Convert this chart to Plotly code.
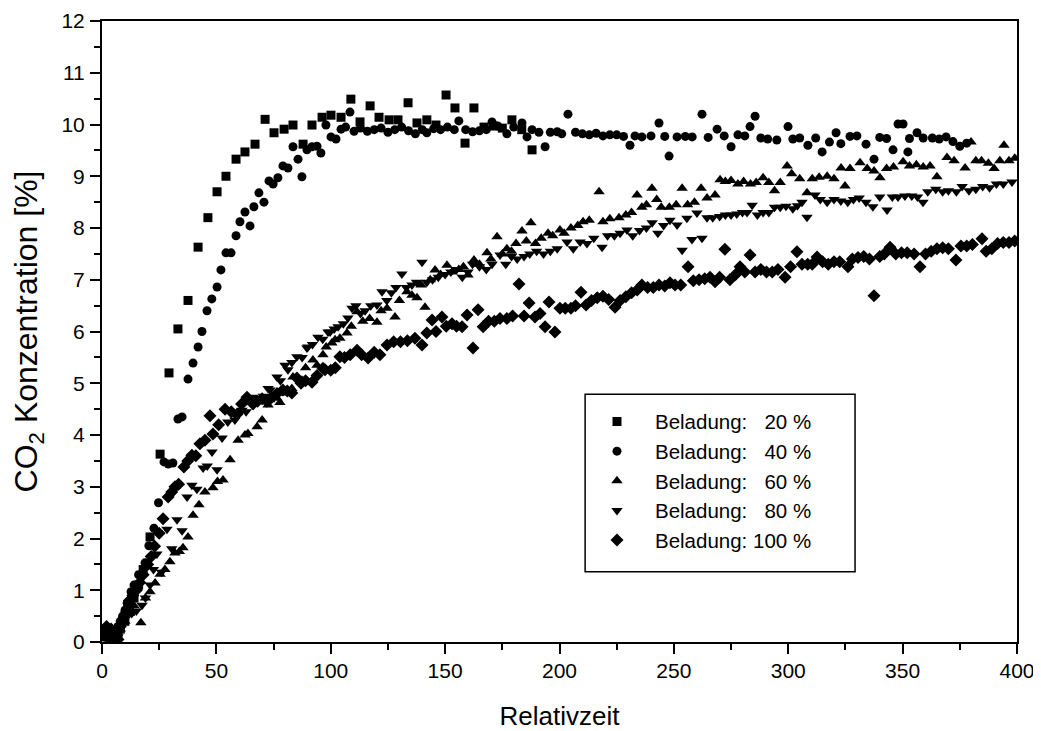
import plotly.graph_objects as go

FONT_FAMILY = "Liberation Sans, Arial, sans-serif"

# Beladung 20 %
x_20 = [1, 2, 3, 4, 5, 6, 7, 8, 10, 12, 14, 16, 18, 21, 25.4, 29.3, 33.2, 37.6, 42, 46.3, 50.3, 54.2, 58.6,
        62.5, 66.9, 71.3, 75.2, 79.6, 83.5, 87.9, 91.8, 96.2, 100.1, 104.5, 108.8, 112.8, 117.2, 121.1, 125.5,
        129.4, 133.8, 137.7, 142, 146, 150.4, 154.3, 158.7, 162.6, 167, 171, 175, 179.2, 183.5, 188]
y_20 = [0.1, 0.2, 0.15, 0.05, 0.1, 0.2, 0.15, 0.25, 0.4, 0.65, 0.85, 1.1, 1.4, 2.03, 3.63, 5.2, 6.05, 6.6, 7.63,
        8.2, 8.7, 9.0, 9.33, 9.47, 9.62, 10.1, 9.84, 9.91, 9.99, 9.62, 9.99, 10.14, 10.18, 10.14, 10.49, 10.05,
        10.36, 10.14, 10.09, 10.09, 10.42, 10.03, 10.09, 9.99, 10.57, 10.32, 9.64, 10.32, 9.95, 9.97, 9.93,
        10.09, 9.9, 9.51]

# Beladung 40 %
x_40 = [1, 2, 3, 4, 5, 6, 7, 8, 9, 10, 11, 12.7, 14, 16, 18.8, 20.5, 22.7, 24.7, 27.1, 29, 31, 33.2, 35, 37.6,
        39.8, 42, 43.7, 45.9, 48, 50.3, 52, 54.2, 56.4, 58.6, 60.3, 62.5, 64.7, 66.4, 68.6, 70.8, 73, 74.8,
        76.9, 79.1, 81.3, 83.5, 85.7, 87.4, 89.6, 91.8, 94, 95.7, 97.9, 100.1, 102.3, 104.5, 106.5, 108.4,
        110.2, 113, 116, 119, 122, 125, 128, 131, 134, 137, 140, 142, 145, 148, 151, 154, 156, 159, 162, 165,
        168, 170.5, 173, 177, 180, 183.6, 185.8, 188, 191, 193.7, 196, 199, 201, 203.7, 207, 210, 213, 216,
        219, 222, 225, 228, 230.8, 233, 236, 240, 243.5, 246, 247.9, 251.4, 255, 258, 262.3, 265, 268.9, 272,
        275, 278, 281, 283.3, 285.5, 288, 291, 295, 299.9, 302, 305, 308.6, 312, 314.8, 318, 320.9, 323, 327,
        330, 334, 337.5, 340, 343, 345.8, 348, 350.2, 352.3, 353, 356.3, 359, 363, 366, 369, 372, 375, 378]
y_40 = [0.1, 0.2, 0.05, 0.15, 0.1, 0.2, 0.3, 0.4, 0.5, 0.6, 0.75, 0.97, 1.1, 1.3, 1.53, 1.86, 2.2, 2.69, 3.48,
        3.44, 3.46, 4.31, 4.35, 5.08, 5.39, 5.7, 6.0, 6.4, 6.63, 6.86, 7.19, 7.52, 7.52, 7.85, 8.12, 8.31, 8.04,
        8.41, 8.68, 8.5, 8.91, 8.85, 8.97, 9.2, 9.16, 9.57, 9.33, 8.99, 9.51, 9.57, 9.58, 9.45, 9.99, 9.76,
        9.72, 9.91, 9.95, 10.24, 9.87, 9.93, 9.87, 9.9, 9.93, 9.85, 9.9, 9.95, 9.88, 9.82, 9.9, 9.84, 9.92, 9.9,
        9.95, 9.9, 10.07, 9.9, 9.86, 9.88, 9.9, 10.05, 9.97, 9.82, 9.95, 10.03, 9.76, 9.9, 9.85, 9.57, 9.85,
        9.86, 9.82, 10.2, 9.85, 9.82, 9.8, 9.83, 9.78, 9.8, 9.8, 9.77, 9.6, 9.78, 9.76, 9.78, 10.03, 9.77,
        9.39, 9.76, 9.77, 9.76, 10.2, 9.75, 9.91, 9.78, 9.57, 9.8, 9.78, 9.96, 10.16, 9.74, 9.72, 9.7, 9.96,
        9.72, 9.74, 9.6, 9.74, 9.47, 9.66, 9.84, 9.63, 9.77, 9.78, 9.62, 9.33, 9.75, 9.73, 9.51, 10.01, 10.01,
        9.47, 9.73, 9.84, 9.74, 9.74, 9.72, 9.76, 9.67, 9.58, 9.64]

# Beladung 60 %
x_60 = [2, 4, 6, 8, 10, 12, 14, 17, 19, 21, 23.2, 25.4, 27.5, 29.7, 31.9, 33.8, 35.4, 37.6, 39.8, 42.4, 45,
        48.5, 50.5, 52.9, 56, 59.5, 62.5, 63.8, 67.8, 70, 72.6, 73.4, 76.5, 77.8, 78.7, 83, 83.5, 87.4, 89,
        92.2, 94, 96.6, 98, 100.5, 101.9, 104, 107.1, 109, 111.5, 114, 117, 120.2, 122, 124.6, 128.1, 130,
        133.3, 135.5, 137.7, 139.5, 141.2, 143.5, 145.6, 148, 150.8, 153, 156, 158, 160, 162.6, 165, 168.3,
        170, 172.7, 175, 177, 179, 181, 183.6, 185.5, 187.5, 189.5, 192, 195, 197, 200.2, 202, 205, 208,
        210.3, 213, 217.3, 219, 222, 226, 229, 231.5, 233.9, 236, 238, 240.4, 242.5, 244.5, 248, 251, 253.6,
        256, 259, 261.9, 264.5, 268, 270.2, 272.5, 275, 278, 280.5, 283.5, 286, 289, 291.5, 294, 296.5,
        299.5, 301.5, 305, 308.2, 310.5, 313.5, 317, 320, 323.1, 324.8, 327, 331.4, 334.5, 337.5, 340.1,
        343, 346, 350.2, 353, 356, 359, 362, 365, 369.4, 372.5, 377.3, 379.9, 382, 384.5, 387.5, 390, 392.5,
        394.3, 396.5, 399]
y_60 = [0.1, 0.2, 0.1, 0.25, 0.4, 0.55, 0.7, 0.37, 0.85, 0.97, 1.14, 1.31, 1.4, 1.55, 1.72, 1.75, 1.82, 2.03,
        2.45, 2.65, 2.9, 2.98, 3.1, 3.13, 3.52, 3.9, 4.0, 4.03, 4.16, 4.29, 4.58, 4.68, 4.71, 4.63, 4.81, 4.9,
        5.12, 5.06, 5.3, 5.45, 5.35, 5.55, 5.7, 5.78, 5.84, 5.87, 5.97, 6.1, 6.38, 6.2, 6.25, 6.18, 6.4, 6.45,
        6.28, 6.6, 6.77, 6.7, 6.65, 6.9, 6.47, 7.0, 7.19, 7.1, 7.28, 7.15, 7.2, 7.25, 7.09, 7.38, 7.3, 7.52,
        7.4, 7.83, 7.5, 7.6, 7.55, 7.7, 7.94, 7.75, 8.1, 7.7, 7.8, 7.9, 7.85, 7.96, 7.9, 8.0, 8.05, 8.12,
        8.15, 8.7, 8.12, 8.18, 8.2, 8.25, 8.3, 8.64, 8.4, 8.45, 8.77, 8.55, 8.4, 8.4, 8.45, 8.77, 8.45, 8.5,
        8.77, 8.58, 8.64, 8.93, 8.9, 8.92, 8.85, 8.9, 8.85, 8.88, 8.97, 8.88, 8.72, 8.88, 9.2, 9.05, 8.95,
        8.68, 8.95, 8.98, 9.0, 8.95, 9.16, 8.81, 9.15, 9.26, 9.15, 9.1, 8.97, 9.15, 9.18, 9.28, 9.2, 9.22,
        9.18, 9.2, 8.99, 9.36, 9.3, 9.16, 9.66, 9.3, 9.3, 9.25, 9.15, 9.3, 9.6, 9.3, 9.35]

# Beladung 80 %
x_80 = [1, 3, 5, 7, 9, 11, 13, 15, 17.5, 19, 21, 22.5, 24, 26, 28.4, 30.5, 32.8, 35, 37.2, 39.3, 41.5, 44.2,
        46, 48.1, 50.3, 52.5, 55, 58.1, 61.2, 63, 65.6, 68, 70.5, 72.6, 73.4, 76.5, 78, 80, 81.3, 83, 85.2,
        87.5, 89.6, 90, 92, 94.4, 96.5, 98.8, 99.7, 101.5, 103.2, 105.5, 107.5, 109.3, 111, 113, 115, 117.5,
        120.2, 122.4, 124.5, 126.5, 128.5, 131.1, 133, 135.5, 137.5, 139.9, 142, 144.5, 147, 150, 152.5, 155,
        157.5, 160, 162, 165, 168, 170.5, 174, 176.5, 179, 181.5, 184.5, 187, 190, 193, 196, 199, 203.3, 206,
        209, 212, 215, 218.6, 221, 224, 226.5, 229.5, 232, 235, 238, 240.5, 243, 245.5, 248.3, 251.4, 253.6,
        255.7, 257.9, 260.1, 262.3, 264.5, 267, 270, 272.5, 275, 277.5, 280, 282, 284.2, 286.5, 289, 291.5,
        294, 296.5, 299, 302, 304, 306, 308.2, 311.7, 314, 317, 320, 323, 326, 328.5, 331, 334, 337, 340,
        343.2, 345.5, 348, 351, 354, 356.5, 358.9, 361, 364.5, 367.5, 370, 373.5, 376, 379, 382, 385, 388,
        391, 394, 397.8]
y_80 = [0.1, 0.2, 0.15, 0.1, 0.35, 0.5, 0.55, 0.6, 0.71, 0.85, 1.1, 1.4, 1.7, 1.35, 2.18, 1.8, 2.36, 2.15, 2.8,
        3.03, 2.95, 3.36, 3.4, 3.67, 3.33, 3.94, 4.25, 4.29, 4.48, 4.45, 4.73, 4.7, 4.75, 4.9, 4.87, 5.12,
        5.05, 5.35, 5.26, 5.4, 5.51, 5.5, 5.68, 5.7, 5.75, 5.89, 5.85, 5.99, 5.99, 6.05, 6.09, 6.15, 6.26,
        6.45, 6.5, 6.35, 6.4, 6.5, 6.51, 6.77, 6.6, 6.75, 6.85, 7.11, 6.85, 6.9, 6.95, 7.34, 6.95, 7.0, 7.05,
        7.1, 7.15, 7.2, 7.05, 7.15, 7.3, 7.25, 7.2, 7.3, 7.48, 7.3, 7.45, 7.4, 7.45, 7.5, 7.55, 7.5, 7.55,
        7.6, 7.73, 7.6, 7.73, 7.7, 7.8, 7.63, 7.85, 7.85, 7.9, 7.96, 7.85, 7.95, 8.0, 8.1, 7.9, 8.05, 8.15,
        8.06, 7.57, 8.19, 7.78, 8.29, 7.8, 8.2, 8.2, 8.22, 8.25, 8.25, 8.27, 8.3, 8.3, 8.44, 8.25, 8.3, 8.3,
        8.4, 8.4, 8.42, 8.37, 8.43, 8.5, 8.21, 8.64, 8.55, 8.5, 8.55, 8.52, 8.5, 8.55, 8.58, 8.5, 8.41, 8.6,
        8.35, 8.6, 8.6, 8.62, 8.62, 8.6, 8.5, 8.7, 8.75, 8.7, 8.72, 8.7, 8.8, 8.72, 8.75, 8.8, 8.78, 8.85,
        8.85, 8.89]

# Beladung 100 %
x_100 = [1, 2, 3, 4, 5, 6, 7, 8, 9, 10, 11, 12, 13.5, 15, 16.5, 18, 20, 21.5, 23, 25, 26.7, 28.9, 30.5, 31.9,
         33.5, 35.8, 37.5, 39.3, 41, 42.8, 45, 47.2, 48.5, 51, 53.8, 56.5, 59, 61, 63.4, 66, 68, 70, 72, 74,
         76.5, 79.1, 81, 83, 85.2, 87, 89, 91.8, 94, 96.6, 97.5, 100, 102, 104, 106, 108.5, 111.5, 113.5,
         116.3, 119, 121.5, 124.6, 127.5, 130.5, 133.5, 136.8, 139.9, 142, 144.3, 146, 148.6, 150.5, 153, 155,
         157.4, 159.6, 162.2, 164.4, 166.6, 169, 171.5, 174, 177, 179.5, 182.3, 184.5, 186.7, 189.3, 191.5,
         193.7, 195.4, 198, 200.2, 202.5, 205, 207, 209.4, 211.6, 214, 216.5, 219, 221.5, 224.3, 226.5, 229,
         231.5, 234, 236, 238.5, 241, 243.5, 246, 248.3, 250.5, 253, 256.2, 258.5, 261, 263.5, 265.8, 268,
         270, 272.3, 274.5, 277, 278.9, 281, 283.3, 285.5, 288, 290.5, 293, 295.5, 298.6, 301, 303.8, 306,
         308.5, 310.5, 312.6, 315, 317.5, 320, 322.5, 326.1, 328, 330.5, 333, 335.5, 337.5, 340, 342, 344.5,
         347, 349.5, 352, 355, 357.6, 360, 362.5, 365, 367.5, 370, 373.3, 375.5, 378, 380.5, 384.7, 386.5,
         389, 391.5, 394, 396.5, 399]
y_100 = [0.2, 0.3, 0.1, 0.25, 0.15, 0.2, 0.05, 0.3, 0.4, 0.5, 0.65, 0.8, 0.9, 1.0, 1.15, 1.3, 1.5, 1.65, 1.85,
         2.1, 2.38, 2.8, 2.9, 3.0, 3.05, 3.38, 3.5, 3.61, 3.6, 3.83, 3.9, 4.37, 4.02, 4.2, 4.5, 4.45, 4.4, 4.6,
         4.73, 4.6, 4.65, 4.7, 4.65, 4.72, 4.8, 4.87, 4.85, 4.81, 5.1, 5.0, 5.05, 5.02, 5.15, 5.29, 5.26, 5.25,
         5.3, 5.51, 5.5, 5.55, 5.64, 5.55, 5.49, 5.6, 5.55, 5.74, 5.8, 5.8, 5.82, 5.87, 5.74, 5.97, 6.22, 6.0,
         6.28, 6.1, 6.15, 6.1, 6.09, 6.32, 5.68, 6.42, 6.09, 6.2, 6.2, 6.25, 6.25, 6.3, 6.92, 6.3, 6.55, 6.28,
         6.35, 6.09, 6.57, 5.99, 6.45, 6.45, 6.45, 6.5, 6.76, 6.51, 6.6, 6.65, 6.68, 6.62, 6.47, 6.6, 6.67,
         6.75, 6.8, 6.9, 6.85, 6.85, 6.9, 6.88, 6.94, 6.9, 6.9, 7.25, 6.98, 7.0, 7.02, 7.05, 6.96, 7.05, 7.59,
         7.0, 7.1, 7.25, 7.15, 7.48, 7.15, 7.2, 7.15, 7.15, 7.2, 7.05, 7.25, 7.54, 7.3, 7.3, 7.3, 7.44, 7.35,
         7.3, 7.35, 7.35, 7.25, 7.4, 7.43, 7.45, 7.4, 6.69, 7.45, 7.5, 7.63, 7.5, 7.52, 7.52, 7.5, 7.25, 7.5,
         7.55, 7.6, 7.62, 7.6, 7.38, 7.65, 7.65, 7.68, 7.79, 7.55, 7.6, 7.7, 7.72, 7.72, 7.75]

series = [
    ("Beladung:\u2007 20 %", x_20, y_20, "square", 9),
    ("Beladung:\u2007 40 %", x_40, y_40, "circle", 9),
    ("Beladung:\u2007 60 %", x_60, y_60, "triangle-up", 10),
    ("Beladung:\u2007 80 %", x_80, y_80, "triangle-down", 10),
    ("Beladung: 100 %", x_100, y_100, "diamond", 10),
]

fig = go.Figure()
for name, xs, ys, symbol, size in series:
    fig.add_trace(go.Scatter(x=xs, y=ys, mode='markers', name=name,
                             marker=dict(symbol=symbol, size=size, color='black', line=dict(width=0)),
                             ))

axis_style = dict(showline=True, linewidth=2, linecolor='black', mirror=True,
                  ticks='outside', ticklen=10, tickwidth=1.5, tickcolor='black',
                  showgrid=False, zeroline=False, automargin=False,
                  tickfont=dict(family=FONT_FAMILY, size=21, color='black'))

fig.update_xaxes(range=[0, 400], dtick=50, tick0=0, ticklabelstandoff=-1,
                 minor=dict(dtick=25, ticks='outside', ticklen=6, tickwidth=1.5, tickcolor='black'),
                 title=dict(text='Relativzeit', font=dict(family=FONT_FAMILY, size=26, color='black'), standoff=30),
                 **axis_style)
fig.update_yaxes(range=[0, 12], dtick=1, tick0=0, ticklabelstandoff=1,
                 minor=dict(dtick=0.5, ticks='outside', ticklen=6, tickwidth=1.5, tickcolor='black'),
                 title=dict(text='CO<sub>2</sub> Konzentration [%]',
                            font=dict(family=FONT_FAMILY, size=32, color='black'), standoff=14),
                 **axis_style)

# legend frame
fig.add_shape(type='rect', xref='paper', yref='paper',
              x0=0.528, x1=0.823, y0=0.113, y1=0.399,
              line=dict(color='black', width=1.5), fillcolor='white', layer='below')

# the page body has an 8px margin, so the figure is drawn 8px smaller and the plot margins shifted
fig.update_layout(
    width=1033, height=723,
    paper_bgcolor='white', plot_bgcolor='rgba(0,0,0,0)',
    margin=dict(l=94, r=24, t=13, b=89, pad=0),
    font=dict(family=FONT_FAMILY, size=21, color='black'),
    legend=dict(x=0.5213, y=0.387, xanchor='left', yanchor='top',
                bgcolor='rgba(0,0,0,0)', borderwidth=0, itemwidth=66,
                font=dict(family=FONT_FAMILY, size=20.5), itemsizing='trace',
                tracegroupgap=0),
)

fig.write_html("out.html")
